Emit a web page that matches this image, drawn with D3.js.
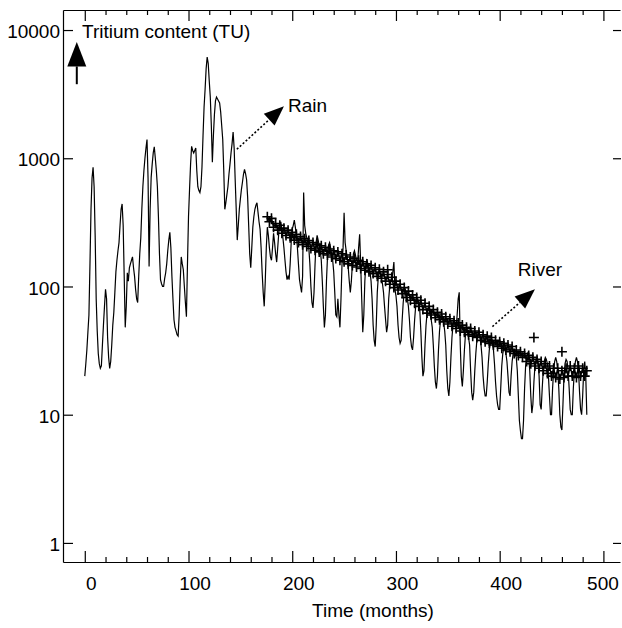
<!DOCTYPE html>
<html><head><meta charset="utf-8">
<script src="https://cdn.jsdelivr.net/npm/d3@7"></script>
<style>html,body{margin:0;padding:0;background:#fff;} svg{display:block;font-family:"Liberation Sans",Arial,Helvetica,sans-serif;}</style>
</head><body>
<svg id="chart" width="622" height="628"></svg>
<script>
// ---- data ----
// monthly rain tritium content, month 0 .. 484
const rainTU = [
 20, 25, 32, 44, 60, 150, 400, 700, 850, 600, 250, 80,
 45, 30, 25, 23, 24, 35, 50, 70, 95, 80, 40, 28,
 23, 26, 35, 50, 63, 90, 130, 160, 190, 220, 300, 400,
 440, 300, 120, 48, 70, 128, 110, 140, 150, 160, 170, 140,
 120, 95, 80, 75, 120, 180, 240, 400, 600, 800, 1000, 1200,
 1400, 700, 143, 400, 710, 900, 1100, 1230, 1000, 800, 600, 350,
 180, 113, 105, 100, 100, 115, 128, 150, 190, 230, 265, 200,
 120, 80, 55, 48, 45, 42, 41, 60, 110, 170, 150, 135,
 100, 75, 58, 150, 350, 570, 900, 1240, 1150, 1100, 1150, 1200,
 800, 600, 560, 540, 600, 860, 1500, 2500, 3450, 5000, 6150, 5500,
 4000, 3000, 1800, 930, 1500, 2200, 2800, 3000, 2900, 2800, 2700, 2300,
 1800, 1400, 800, 400, 450, 520, 600, 750, 900, 1100, 1300, 1600,
 1200, 680, 400, 230, 300, 400, 480, 570, 650, 750, 820, 760,
 680, 500, 300, 180, 140, 200, 290, 350, 400, 430, 450, 380,
 320, 280, 200, 128, 90, 70, 110, 200, 290, 250, 200, 170,
 160, 200, 260, 220, 180, 155, 200, 260, 300, 320, 280, 240,
 200, 160, 130, 113, 120, 113, 150, 220, 280, 300, 330, 290,
 250, 200, 150, 113, 100, 90, 120, 540, 300, 260, 240, 220,
 200, 150, 100, 75, 68, 90, 150, 220, 250, 230, 210, 190,
 160, 110, 70, 48, 60, 110, 170, 210, 220, 200, 180, 160,
 130, 90, 60, 58, 80, 60, 48, 80, 150, 200, 375, 220,
 190, 170, 140, 110, 90, 110, 150, 180, 190, 175, 160, 150,
 200, 255, 150, 80, 44, 60, 110, 150, 160, 150, 140, 130,
 110, 80, 50, 38, 34, 50, 90, 120, 130, 125, 115, 105,
 90, 70, 55, 44, 50, 80, 100, 110, 110, 130, 155, 95,
 85, 70, 50, 40, 36, 38, 55, 75, 90, 95, 90, 80,
 70, 55, 40, 34, 32, 40, 55, 70, 78, 80, 75, 65,
 45, 28, 20, 22, 35, 50, 62, 68, 66, 60, 55, 48,
 35, 24, 18, 16, 20, 32, 45, 55, 58, 56, 52, 45,
 35, 22, 16, 14, 18, 28, 40, 50, 55, 52, 48, 60,
 80, 90, 35, 20, 16.6, 22, 32, 42, 46, 44, 40, 35,
 22, 15, 13, 15, 22, 30, 38, 42, 44, 40, 35, 28,
 20, 16, 14, 14, 18, 25, 32, 36, 38, 36, 32, 25,
 18, 14, 12, 11, 11, 16, 24, 30, 33, 32, 30, 26,
 20, 15, 14, 20, 26, 30, 31, 30, 28, 22, 14, 9,
 7.5, 6.5, 6.5, 9, 16, 24, 28, 30, 28, 22, 14, 10.3,
 12, 18, 24, 27, 28, 26, 20, 12, 11, 16, 22, 26,
 28, 27, 25, 20, 14, 10, 10, 16, 22, 26, 28, 26,
 22, 16, 10, 8, 7.6, 12, 20, 25, 27, 26, 22, 16,
 11, 10, 10, 16, 22, 26, 28, 26, 22, 15, 11, 10,
 14, 22, 26, 20, 10
];
const rainMonths = rainTU.map((_, i) => i);

// river tritium content, every 2 months from month 176
const riverTU = [
 350, 320, 340, 290, 310, 275, 300, 260, 285, 250, 275, 240,
 265, 230, 255, 220, 245, 212, 236, 205, 228, 198, 220, 192,
 214, 186, 208, 180, 202, 176, 196, 170, 190, 165, 186, 160,
 180, 156, 176, 150, 170, 146, 166, 142, 160, 138, 156, 134,
 150, 130, 146, 126, 140, 120, 136, 116, 130, 110, 124, 104,
 118, 98, 110, 94, 104, 88, 98, 82, 92, 78, 86, 74,
 82, 70, 78, 66, 74, 62, 70, 60, 66, 57, 63, 55,
 61, 53, 58, 51, 56, 49, 54, 47, 52, 45, 50, 44,
 48, 42, 47, 41, 45, 40, 44, 38, 42, 37, 41, 36,
 40, 35, 38, 34, 37, 33, 36, 32, 35, 31, 34, 30,
 32, 29, 31, 28, 30, 26, 29, 25, 28, 24, 27, 23,
 26, 22, 25, 21, 24, 20, 23, 19.5, 23, 19, 22, 19.5,
 23, 20, 24, 20, 23, 19.5, 24, 20, 23, 20, 22
];
const riverMonths = riverTU.map((_, i) => 176 + 2 * i);
const riverExtraMonths = [292, 433, 460];
const riverExtraTU = [135, 40, 31];

const xTickValues = [0, 100, 200, 300, 400, 500];
const xTickLabels = ["0", "100", "200", "300", "400", "500"];
const yTickValues = [1, 10, 100, 1000, 10000];
const yTickLabels = ["1", "10", "100", "1000", "10000"];

// ---- layout ----
const svg = d3.select("#chart");
const plotL = 63, plotR = 620, plotT = 10, plotB = 562;
const x = d3.scaleLinear().domain([-21, 516]).range([plotL, plotR]);
const y = d3.scaleLog().domain([0.71, 14330]).range([plotB, plotT]);
const FS = 19;

// bottom axis
const minorX = d3.range(20, 516, 20).filter(d => d % 100 !== 0);
const gB = svg.append("g").attr("transform", `translate(0,${plotB})`)
  .call(d3.axisBottom(x).tickValues(xTickValues).tickFormat((d, i) => xTickLabels[i])
    .tickSizeInner(-11).tickSizeOuter(0).tickPadding(15));
gB.selectAll("text").attr("font-size", FS).attr("font-family", null).attr("fill", "#000")
  .attr("dx", (d, i) => i === xTickValues.length - 1 ? -1 : 6);
gB.append("g").call(d3.axisBottom(x).tickValues(minorX).tickSize(-5).tickFormat(""))
  .select(".domain").remove();

// top axis
const gT = svg.append("g").attr("transform", `translate(0,${plotT})`)
  .call(d3.axisTop(x).tickValues(xTickValues).tickSizeInner(-11).tickSizeOuter(0).tickFormat(""));
gT.append("g").call(d3.axisTop(x).tickValues(minorX).tickSize(-5).tickFormat(""))
  .select(".domain").remove();

// left axis
const gL = svg.append("g").attr("transform", `translate(${plotL},0)`)
  .call(d3.axisLeft(y).tickValues(yTickValues).tickFormat((d, i) => yTickLabels[i])
    .tickSizeInner(-10).tickSizeOuter(0).tickPadding(3));
gL.selectAll("text").attr("font-size", FS).attr("dy", "0.4em").attr("font-family", null).attr("fill", "#000");

// right ticks (frame edge lies outside the picture)
const gR = svg.append("g").attr("transform", `translate(621,0)`)
  .call(d3.axisRight(y).tickValues(yTickValues).tickSize(-8).tickFormat(""));
gR.select(".domain").remove();

svg.selectAll(".domain, .tick line").attr("stroke", "#000").attr("stroke-width", 1.2);

// rain line
const line = d3.line().x(d => x(d[0])).y(d => y(d[1]));
svg.append("path")
  .datum(rainMonths.map((m, i) => [m, rainTU[i]]))
  .attr("d", line).attr("fill", "none").attr("stroke", "#000").attr("stroke-width", 1.2);

// river: connecting line + plus markers
const riverMain = riverMonths.map((m, i) => [m, riverTU[i]]);
svg.append("path").datum(riverMain).attr("d", line)
  .attr("fill", "none").attr("stroke", "#000").attr("stroke-width", 1.4);
const plus = "M-5,0H5M0,-5V5";
const riverPts = riverMain.concat(riverExtraMonths.map((m, i) => [m, riverExtraTU[i]]));
svg.append("g").selectAll("path").data(riverPts).join("path")
  .attr("transform", d => `translate(${x(d[0])},${y(d[1])})`)
  .attr("d", plus).attr("stroke", "#000").attr("stroke-width", 1.6).attr("fill", "none");

// ---- annotations ----
function dottedArrow(x0, y0, x1, y1, headLen, headHalf) {
  const dx = x1 - x0, dy = y1 - y0, L = Math.hypot(dx, dy);
  const ux = dx / L, uy = dy / L;
  const bx = x1 - ux * headLen, by = y1 - uy * headLen;
  svg.append("line").attr("x1", x0).attr("y1", y0).attr("x2", bx).attr("y2", by)
    .attr("stroke", "#000").attr("stroke-width", 1.6).attr("stroke-dasharray", "2,2");
  svg.append("path")
    .attr("d", `M${x1},${y1}L${bx - uy * headHalf},${by + ux * headHalf}L${bx + uy * headHalf},${by - ux * headHalf}Z`)
    .attr("fill", "#000");
}
// Rain arrow
dottedArrow(x(146.6), y(1175), x(192), y(2550), 20, 8);
svg.append("text").attr("x", x(196)).attr("y", y(2290)).attr("font-size", FS).text("Rain");
// River arrow
dottedArrow(x(393), y(48.7), x(434), y(95), 20, 8);
svg.append("text").attr("x", x(417.5)).attr("y", y(120)).attr("font-size", FS).text("River");

// y-axis title with upward arrow
svg.append("text").attr("x", 82).attr("y", y(10000) + 8).attr("font-size", FS).text("Tritium content (TU)");
svg.append("line").attr("x1", x(-7.7)).attr("x2", x(-7.7)).attr("y1", y(3780)).attr("y2", y(5200))
  .attr("stroke", "#000").attr("stroke-width", 2);
svg.append("path")
  .attr("d", `M${x(-7.7)},${y(8050)}L${x(-7.7) - 9.5},${y(5200)}L${x(-7.7) + 9.5},${y(5200)}Z`)
  .attr("fill", "#000");

// x-axis title
svg.append("text").attr("x", 373).attr("y", 617).attr("text-anchor", "middle")
  .attr("font-size", FS).text("Time (months)");
</script>
</body></html>
